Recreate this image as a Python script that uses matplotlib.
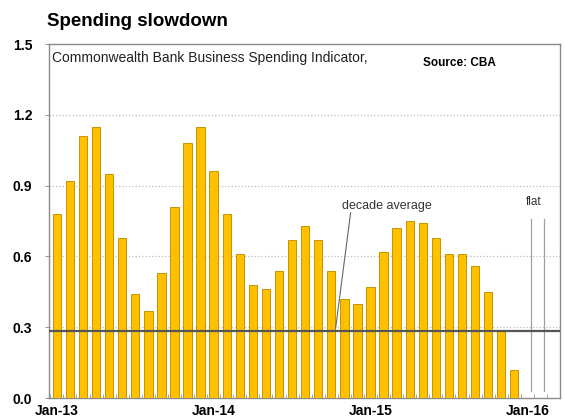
import matplotlib
matplotlib.use("Agg")
import matplotlib.pyplot as plt
import numpy as np

plt.rcParams['font.family'] = ['Liberation Sans', 'DejaVu Sans']

# Monthly values Jan-13 .. Dec-15
months = [f"{m}-{y}" for y in ("13", "14", "15") for m in
          ("Jan", "Feb", "Mar", "Apr", "May", "Jun", "Jul", "Aug", "Sep", "Oct", "Nov", "Dec")]
values = [0.78, 0.92, 1.11, 1.15, 0.95, 0.68, 0.44, 0.37, 0.53, 0.81, 1.08, 1.15,
          0.96, 0.78, 0.61, 0.48, 0.46, 0.54, 0.67, 0.73, 0.67, 0.54, 0.42, 0.40,
          0.47, 0.62, 0.72, 0.75, 0.74, 0.68, 0.61, 0.61, 0.56, 0.45, 0.29, 0.12]
decade_average = 0.285
tick_labels = ["Jan-13", "Jan-14", "Jan-15", "Jan-16"]
tick_positions = [0, 12, 24, 36]
yticks = [0.0, 0.3, 0.6, 0.9, 1.2, 1.5]
flat_positions = [36.3, 37.3]

fig = plt.figure(figsize=(5.65, 4.19), dpi=100)
ax = fig.add_axes([49/565, 21/419, 511/565, 354/419])

x = np.arange(len(values))
ax.bar(x, values, width=0.64, color='#FFC000', edgecolor='#C89400', linewidth=0.7, zorder=3)

ax.set_xlim(-0.6, 38.4)
ax.set_ylim(0, 1.5)

for yv in yticks[1:-1]:
    ax.axhline(yv, color='#bdbdbd', linestyle=':', linewidth=0.9, zorder=1)

ax.axhline(decade_average, color='#555555', linewidth=1.6, zorder=4)

for fp in flat_positions:
    ax.plot([fp, fp], [0.03, 0.76], color='#a0a0a0', linewidth=0.9, zorder=2)

ax.set_yticks(yticks)
ax.set_yticklabels([f"{v:.1f}" for v in yticks], fontweight='bold', fontsize=10)
ax.set_xticks(tick_positions)
ax.set_xticklabels(tick_labels, fontweight='bold', fontsize=10)
ax.tick_params(axis='x', length=0, pad=4)
ax.tick_params(axis='y', length=3, color='#999999', pad=9, direction='out')
ax.set_xticks(np.arange(-0.5, 39, 1), minor=True)
ax.tick_params(axis='x', which='minor', length=3, direction='in', color='#999999')

for s in ax.spines.values():
    s.set_color('#8a8a8a')
    s.set_linewidth(1.0)

fig.text(47/565, 1 - 22/419, "Spending slowdown", fontsize=13.5, fontweight='bold',
         ha='left', va='center')
ax.text(0.006, 0.96, "Commonwealth Bank Business Spending Indicator,", transform=ax.transAxes,
        fontsize=10, ha='left', va='center', color='#222222')
ax.text(0.732, 0.946, "Source: CBA", transform=ax.transAxes, fontsize=8.5, fontweight='bold',
        ha='left', va='center')

ax.text(25.25, 0.814, "decade average", fontsize=9, ha='center', va='center', color='#333333')
ax.plot([22.48, 21.33], [0.785, 0.295], color='#666666', linewidth=0.8, zorder=5)
ax.text(36.5, 0.83, "flat", fontsize=8.5, ha='center', va='center', color='#333333')

fig.savefig("out.png", dpi=100)
